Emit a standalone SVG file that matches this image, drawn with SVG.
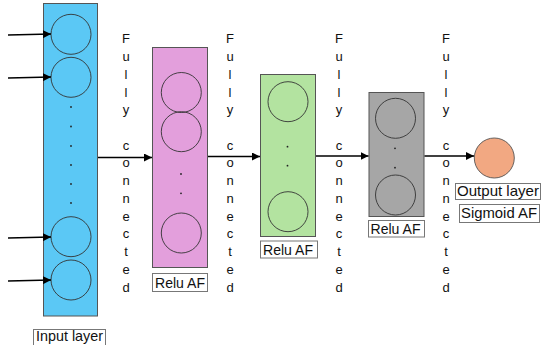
<svg xmlns="http://www.w3.org/2000/svg" width="542" height="345" viewBox="0 0 542 345">
<style>
.layer{stroke:#555;stroke-width:1}
.n{fill:none;stroke:#333;stroke-width:0.9}
.dot{fill:#222}
.lbl{fill:#fff;stroke:#777;stroke-width:1}
.lt{font-family:"Liberation Sans",Arial,sans-serif;font-size:14.5px;fill:#111}
.fc{font-family:"Liberation Sans",Arial,sans-serif;font-size:13px;fill:#111;text-anchor:middle}
.c{stroke:#000;stroke-width:1.3;fill:none}
</style>
<defs>
<marker id="ah" viewBox="0 0 10 10" refX="10" refY="5" markerWidth="8" markerHeight="8" markerUnits="userSpaceOnUse" orient="auto">
<path d="M0,0 L10,5 L0,10 z" fill="#000"/>
</marker>
</defs>
<rect width="542" height="345" fill="#fff"/>
<g id="input-layer">
<rect class="layer" x="43.5" y="3.5" width="54" height="312.5" fill="#5BC8F5"/>
<circle class="n" cx="71" cy="34.3" r="20"/>
<circle class="n" cx="71" cy="77.3" r="20"/>
<circle class="n" cx="71" cy="236.7" r="20"/>
<circle class="n" cx="71" cy="280" r="20"/>
<circle class="dot" cx="71" cy="107" r="0.9"/>
<circle class="dot" cx="71" cy="126.5" r="0.9"/>
<circle class="dot" cx="71" cy="146" r="0.9"/>
<circle class="dot" cx="71" cy="165" r="0.9"/>
<circle class="dot" cx="71" cy="184" r="0.9"/>
<circle class="dot" cx="71" cy="203" r="0.9"/>
<rect class="lbl" x="33.5" y="329.5" width="72" height="16"/>
<text class="lt" x="36" y="341" textLength="67" lengthAdjust="spacingAndGlyphs">Input layer</text>
</g>
<g id="hidden1">
<rect class="layer" x="152.5" y="47.5" width="55" height="220" fill="#E39FDC"/>
<circle class="n" cx="181.3" cy="92.5" r="20"/>
<circle class="n" cx="181.3" cy="131.7" r="20"/>
<circle class="n" cx="181.3" cy="233" r="20"/>
<circle class="dot" cx="181" cy="174" r="0.9"/>
<circle class="dot" cx="181" cy="193.3" r="0.9"/>
<rect class="lbl" x="152.5" y="273.5" width="55" height="18"/>
<text class="lt" x="155" y="288.3" textLength="50" lengthAdjust="spacingAndGlyphs">Relu AF</text>
</g>
<g id="hidden2">
<rect class="layer" x="260.5" y="74.5" width="55" height="162" fill="#B3E3A0"/>
<circle class="n" cx="288" cy="101.7" r="20"/>
<circle class="n" cx="288" cy="211.7" r="20"/>
<circle class="dot" cx="287.5" cy="146.7" r="0.9"/>
<circle class="dot" cx="287.5" cy="165.7" r="0.9"/>
<rect class="lbl" x="260.5" y="241" width="57" height="17"/>
<text class="lt" x="263" y="255" textLength="50" lengthAdjust="spacingAndGlyphs">Relu AF</text>
</g>
<g id="hidden3">
<rect class="layer" x="369" y="92.5" width="55" height="124" fill="#A6A6A6"/>
<circle class="n" cx="395.5" cy="118.3" r="20"/>
<circle class="n" cx="395.5" cy="195" r="20"/>
<circle class="dot" cx="395" cy="148.3" r="0.9"/>
<circle class="dot" cx="395" cy="167.7" r="0.9"/>
<rect class="lbl" x="368.5" y="220.5" width="56" height="16.5"/>
<text class="lt" x="370.5" y="233.5" textLength="50" lengthAdjust="spacingAndGlyphs">Relu AF</text>
</g>
<g id="output-layer">
<circle cx="494.3" cy="158" r="20" fill="#F2A882" stroke="#555" stroke-width="0.9"/>
<rect class="lbl" x="455.5" y="183.5" width="85" height="16"/>
<text class="lt" x="457" y="195.5" textLength="82" lengthAdjust="spacingAndGlyphs">Output layer</text>
<rect class="lbl" x="459.5" y="204.5" width="80" height="18"/>
<text class="lt" x="461" y="218.3" textLength="76" lengthAdjust="spacingAndGlyphs">Sigmoid AF</text>
</g>
<g id="labels">
<text class="fc" y="43.3"><tspan x="126">F</tspan><tspan x="126" dy="17.74">u</tspan><tspan x="126" dy="17.74">l</tspan><tspan x="126" dy="17.74">l</tspan><tspan x="126" dy="17.74">y</tspan><tspan x="126" dy="35.48">c</tspan><tspan x="126" dy="17.74">o</tspan><tspan x="126" dy="17.74">n</tspan><tspan x="126" dy="17.74">n</tspan><tspan x="126" dy="17.74">e</tspan><tspan x="126" dy="17.74">c</tspan><tspan x="126" dy="17.74">t</tspan><tspan x="126" dy="17.74">e</tspan><tspan x="126" dy="17.74">d</tspan></text>
<text class="fc" y="43.3"><tspan x="230">F</tspan><tspan x="230" dy="17.74">u</tspan><tspan x="230" dy="17.74">l</tspan><tspan x="230" dy="17.74">l</tspan><tspan x="230" dy="17.74">y</tspan><tspan x="230" dy="35.48">c</tspan><tspan x="230" dy="17.74">o</tspan><tspan x="230" dy="17.74">n</tspan><tspan x="230" dy="17.74">n</tspan><tspan x="230" dy="17.74">e</tspan><tspan x="230" dy="17.74">c</tspan><tspan x="230" dy="17.74">t</tspan><tspan x="230" dy="17.74">e</tspan><tspan x="230" dy="17.74">d</tspan></text>
<text class="fc" y="43.3"><tspan x="339">F</tspan><tspan x="339" dy="17.74">u</tspan><tspan x="339" dy="17.74">l</tspan><tspan x="339" dy="17.74">l</tspan><tspan x="339" dy="17.74">y</tspan><tspan x="339" dy="35.48">c</tspan><tspan x="339" dy="17.74">o</tspan><tspan x="339" dy="17.74">n</tspan><tspan x="339" dy="17.74">n</tspan><tspan x="339" dy="17.74">e</tspan><tspan x="339" dy="17.74">c</tspan><tspan x="339" dy="17.74">t</tspan><tspan x="339" dy="17.74">e</tspan><tspan x="339" dy="17.74">d</tspan></text>
<text class="fc" y="43.3"><tspan x="446">F</tspan><tspan x="446" dy="17.74">u</tspan><tspan x="446" dy="17.74">l</tspan><tspan x="446" dy="17.74">l</tspan><tspan x="446" dy="17.74">y</tspan><tspan x="446" dy="35.48">c</tspan><tspan x="446" dy="17.74">o</tspan><tspan x="446" dy="17.74">n</tspan><tspan x="446" dy="17.74">n</tspan><tspan x="446" dy="17.74">e</tspan><tspan x="446" dy="17.74">c</tspan><tspan x="446" dy="17.74">t</tspan><tspan x="446" dy="17.74">e</tspan><tspan x="446" dy="17.74">d</tspan></text>
</g>
<g id="connectors">
<line class="c" x1="8" y1="35" x2="51" y2="34" marker-end="url(#ah)"/>
<line class="c" x1="8" y1="78" x2="51" y2="77" marker-end="url(#ah)"/>
<line class="c" x1="8" y1="238" x2="51" y2="237" marker-end="url(#ah)"/>
<line class="c" x1="8" y1="281" x2="51" y2="280" marker-end="url(#ah)"/>
<line class="c" x1="98" y1="157.5" x2="152" y2="157.5" marker-end="url(#ah)"/>
<line class="c" x1="208" y1="156.5" x2="260" y2="156.5" marker-end="url(#ah)"/>
<line class="c" x1="316" y1="156" x2="368.5" y2="156" marker-end="url(#ah)"/>
<line class="c" x1="424.5" y1="156" x2="474" y2="156" marker-end="url(#ah)"/>
</g>
</svg>
